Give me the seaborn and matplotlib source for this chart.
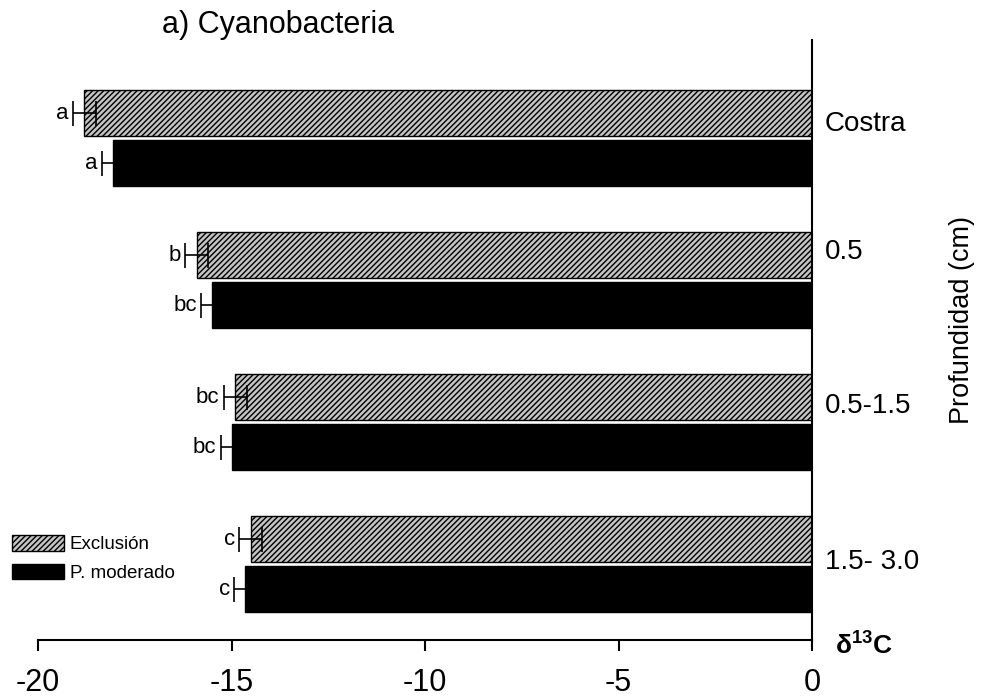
import seaborn as sns
import matplotlib.pyplot as plt
import matplotlib.transforms as mtrans
import pandas as pd

depths = ['Costra', '0.5', '0.5-1.5', '1.5- 3.0']
treatments = ['Exclusión', 'P. moderado']
excl_vals = [-18.8, -15.9, -14.9, -14.5]
excl_err = [0.3, 0.3, 0.3, 0.3]
excl_letters = ['a', 'b', 'bc', 'c']
pm_vals = [-18.05, -15.5, -15.0, -14.65]
pm_err = [0.3, 0.28, 0.28, 0.28]
pm_letters = ['a', 'bc', 'bc', 'c']

# vertical nudge (pixels, up) of the depth labels as in the original
label_shift = [14, 28, 16, 2]

df = pd.DataFrame({
    'Profundidad': depths * 2,
    'Tratamiento': [treatments[0]] * 4 + [treatments[1]] * 4,
    'd13C': excl_vals + pm_vals,
})

sns.set_style('white')
plt.rcParams['font.family'] = ['Liberation Sans', 'DejaVu Sans']
plt.rcParams['text.color'] = 'black'
plt.rcParams['xtick.color'] = 'black'
plt.rcParams['ytick.color'] = 'black'
plt.rcParams['hatch.linewidth'] = 1.0
plt.rcParams['mathtext.fontset'] = 'custom'
plt.rcParams['mathtext.rm'] = 'Liberation Sans'
plt.rcParams['mathtext.bf'] = 'Liberation Sans:bold'

fig = plt.figure(figsize=(9.82, 7), dpi=100)
ax = fig.add_axes([0.0387, 0.0857, 0.7882, 0.8571])

sns.barplot(data=df, x='d13C', y='Profundidad', hue='Tratamiento', orient='h',
            palette={'Exclusión': '#c4c4c4', 'P. moderado': 'black'},
            edgecolor='black', linewidth=1, width=0.704, gap=0.08, ax=ax)

for bar in ax.containers[0]:
    bar.set_hatch('//////')

series = [(excl_vals, excl_err, excl_letters), (pm_vals, pm_err, pm_letters)]
for cont, (vals, errs, letters) in zip(ax.containers, series):
    ys = [b.get_y() + b.get_height() / 2 for b in cont]
    ax.errorbar(vals, ys, xerr=errs, fmt='none', ecolor='black',
                elinewidth=1.2, capsize=9, capthick=1.2, zorder=5)
    for v, e, y, lab in zip(vals, errs, ys, letters):
        ax.annotate(lab, (v - e, y), xytext=(-3, 0), textcoords='offset points',
                    ha='right', va='center', fontsize=16)

ax.set_xlim(-20, 0)
ax.set_ylim(3.535, -0.69)
ax.set_xticks([-20, -15, -10, -5, 0])
ax.set_xticklabels(['-20', '-15', '-10', '-5', '0'], fontsize=22)
ax.tick_params(axis='x', direction='out', length=8, width=1.5, pad=12, bottom=True)
ax.set_yticks(range(len(depths)))
ax.set_yticklabels([])
ax.tick_params(axis='y', length=0, left=False, right=False)
ax.set_xlabel('')
ax.set_ylabel('')

trans = mtrans.blended_transform_factory(ax.transAxes, ax.transData)
for i, (lab, dy) in enumerate(zip(depths, label_shift)):
    t = trans + mtrans.ScaledTranslation(13 / 100, dy / 100, fig.dpi_scale_trans)
    ax.text(1.0, i, lab, transform=t, ha='left', va='center', fontsize=20,
            clip_on=False)

for s in ['top', 'left']:
    ax.spines[s].set_visible(False)
for s in ['bottom', 'right']:
    ax.spines[s].set_color('black')
    ax.spines[s].set_linewidth(1.5)

ax.legend(handles=[ax.containers[0][0], ax.containers[1][0]], labels=treatments,
          loc='upper left', bbox_to_anchor=(0.012, 1 - 535 / 700),
          bbox_transform=fig.transFigure, frameon=False, fontsize=13.5,
          handlelength=2.8, handleheight=0.9, handletextpad=0.3,
          labelspacing=0.55, borderaxespad=0, borderpad=0)

fig.text(0.165, 1 - 33 / 700, 'a) Cyanobacteria', fontsize=22, ha='left', va='baseline')
fig.text(0.98, 1 - 320 / 700, 'Profundidad (cm)', fontsize=19.5, rotation=90,
         ha='center', va='center')
fig.text(0.85, 1 - 646 / 700, r'$\mathbf{\delta^{13}C}$', fontsize=19,
         ha='left', va='center')

plt.savefig('out.png', dpi=100)
